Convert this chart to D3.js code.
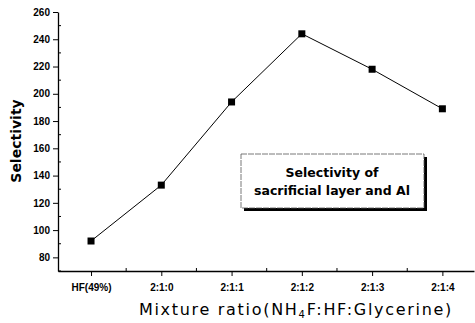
<!DOCTYPE html>
<html>
<head>
<meta charset="utf-8">
<script src="https://cdn.jsdelivr.net/npm/d3@7"></script>
<style>
  body { margin: 0; background: #fff; }
  svg { display: block; font-family: "DejaVu Sans", Verdana, sans-serif; }
</style>
</head>
<body>
<svg width="475" height="323"></svg>
<script>
const categories = ['HF(49%)', '2:1:0', '2:1:1', '2:1:2', '2:1:3', '2:1:4'];
const selectivity = [92, 133, 194, 244, 218, 189];
const yTicks = [80, 100, 120, 140, 160, 180, 200, 220, 240, 260];

const svg = d3.select('svg');

const x = d3.scaleLinear().domain([-0.47, 5.45]).range([58, 474]);
const y = d3.scaleLinear().domain([70, 260]).range([271, 12]);

const g = svg.append('g');

// y axis: labelled ticks outward, minor ticks inward
const yAxis = g.append('g')
    .attr('transform', 'translate(58,0)')
    .call(d3.axisLeft(y).tickValues(yTicks).tickSize(5).tickSizeOuter(0).tickPadding(3));
yAxis.selectAll('.tick text').attr('font-size', 10).attr('font-weight', 'bold');
yAxis.append('g').selectAll('line')
    .data(d3.range(70, 260, 10).filter(v => v % 20 !== 0))
    .enter().append('line')
      .attr('x1', 0).attr('x2', 3)
      .attr('y1', d => y(d)).attr('y2', d => y(d))
      .attr('stroke', '#000');

// x axis
const xAxis = g.append('g')
    .attr('transform', 'translate(0,271)')
    .call(d3.axisBottom(x).tickValues(d3.range(categories.length))
      .tickFormat(i => categories[i]).tickSize(5).tickSizeOuter(0).tickPadding(8));
xAxis.selectAll('.tick text').attr('font-size', 10).attr('font-weight', 'bold');
xAxis.append('g').selectAll('line')
    .data(d3.range(-0.5, categories.length, 1).filter(v => v > -0.47))
    .enter().append('line')
      .attr('x1', d => x(d)).attr('x2', d => x(d))
      .attr('y1', 0).attr('y2', -3)
      .attr('stroke', '#000');

g.selectAll('.domain').attr('stroke-width', 1.3);

// line and markers
const line = d3.line()
    .x((d, i) => x(i))
    .y(d => y(d));

g.append('path')
    .datum(selectivity)
    .attr('d', line)
    .attr('fill', 'none')
    .attr('stroke', '#000')
    .attr('stroke-width', 1);

g.selectAll('rect.pt')
    .data(selectivity)
    .enter().append('rect')
      .attr('class', 'pt')
      .attr('x', (d, i) => x(i) - 3.5)
      .attr('y', d => y(d) - 3.5)
      .attr('width', 7)
      .attr('height', 7)
      .attr('fill', '#000');

// axis titles
svg.append('text')
    .attr('transform', 'translate(21,141) rotate(-90)')
    .attr('text-anchor', 'middle')
    .attr('font-size', 14)
    .attr('font-weight', 'bold')
    .text('Selectivity');

const xt = svg.append('text')
    .attr('x', 296)
    .attr('y', 315)
    .attr('text-anchor', 'middle')
    .attr('font-size', 16)
    .attr('letter-spacing', 1.7);
xt.append('tspan').text('Mixture ratio(NH');
xt.append('tspan').attr('font-size', 10).attr('dy', 3).text('4');
xt.append('tspan').attr('dy', -3).text('F:HF:Glycerine)');

// annotation box with shadow
const box = svg.append('g');
box.append('rect')
    .attr('x', 244).attr('y', 157).attr('width', 183).attr('height', 54)
    .attr('fill', '#000');
box.append('rect')
    .attr('x', 241).attr('y', 154).attr('width', 183).attr('height', 54)
    .attr('fill', '#fff')
    .attr('stroke', '#555')
    .attr('stroke-width', 0.8)
    .attr('stroke-dasharray', '6,1');
box.append('text')
    .attr('x', 332).attr('y', 177)
    .attr('text-anchor', 'middle')
    .attr('font-size', 12.5)
    .attr('font-weight', 'bold')
    .text('Selectivity of');
box.append('text')
    .attr('x', 332).attr('y', 195)
    .attr('text-anchor', 'middle')
    .attr('font-size', 12.5)
    .attr('font-weight', 'bold')
    .text('sacrificial layer and Al');
</script>
</body>
</html>
